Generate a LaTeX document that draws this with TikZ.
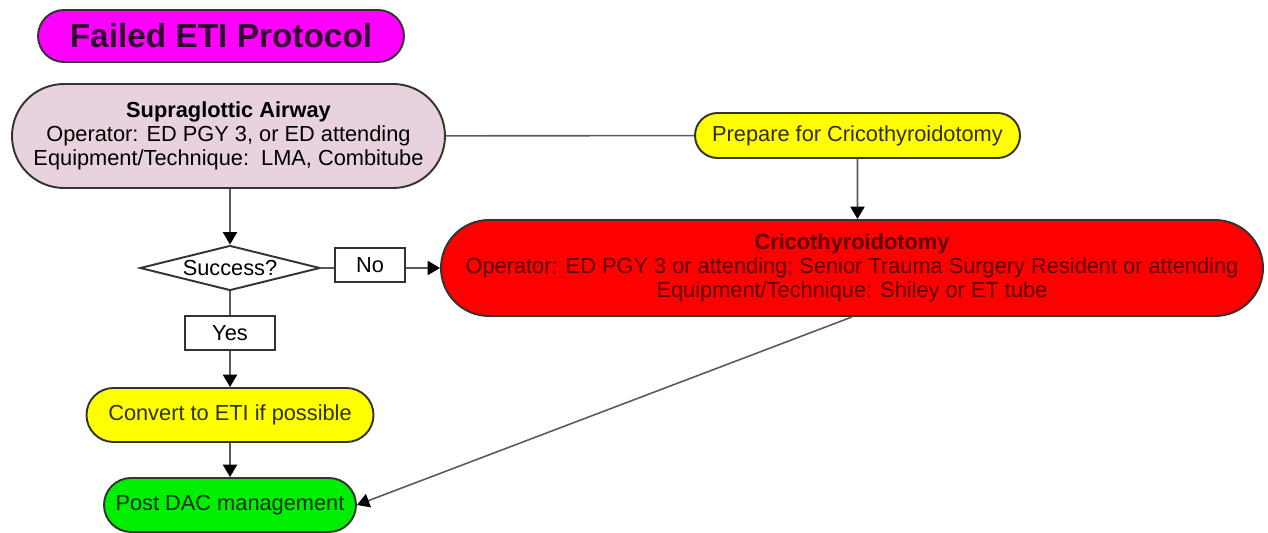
\documentclass[tikz,border=0pt]{standalone}
\usepackage{fontspec}
\setmainfont{Liberation Sans}
\usetikzlibrary{shapes.misc,shapes.geometric,arrows.meta}
\definecolor{titlefill}{HTML}{FF00FF}
\definecolor{sgafill}{HTML}{E8D2DE}
\definecolor{yelfill}{HTML}{FFFF00}
\definecolor{redfill}{HTML}{FF0000}
\definecolor{grnfill}{HTML}{00EE00}
\definecolor{edge}{HTML}{333333}
\definecolor{wire}{HTML}{5A5A5A}
\definecolor{redtext}{HTML}{5A0000}
\definecolor{titletext}{HTML}{300030}
\definecolor{grntext}{HTML}{0A300A}
\definecolor{yeltext}{HTML}{303000}
\begin{document}
\begin{tikzpicture}[every node/.style={align=center,inner sep=0pt,font=\fontsize{12.4}{13.7}\selectfont},
		pill/.style={rounded rectangle,draw=edge,line width=1.1pt},
		labelbox/.style={rectangle,draw=edge,line width=1.1pt,fill=white},
		wire/.style={draw=wire,line width=0.9pt},
		flow/.style={wire,-{Triangle[length=7pt,width=8pt,color=black]}}]
			\useasboundingbox (0,0) rectangle (25.36,-10.66);
			\node[pill,fill=titlefill,text=titletext,minimum width=7.32cm,minimum height=1.04cm,font=\fontsize{19}{22}\selectfont\bfseries] (title) at (4.42,-.72)
				{Failed ETI Protocol};
			\node[pill,fill=sgafill,minimum width=8.66cm,minimum height=2.08cm] (sga) at (4.57,-2.72)
				{\textbf{Supraglottic Airway}\\Operator: ED PGY 3, or ED attending\\Equipment/Technique:\ \ LMA, Combitube};
			\node[pill,fill=yelfill,text=yeltext,minimum width=6.5cm,minimum height=.9cm] (prep) at (17.15,-2.71)
				{Prepare for Cricothyroidotomy};
			\node[pill,fill=redfill,minimum width=16.44cm,minimum height=1.92cm,text=redtext] (cric) at (17.04,-5.36)
				{\textbf{Cricothyroidotomy}\\Operator: ED PGY 3 or attending; Senior Trauma Surgery Resident or attending\\Equipment/Technique: Shiley or ET tube};
			\node[diamond,draw=edge,line width=1.1pt,aspect=4,minimum width=3.6cm,minimum height=.9cm] (succ) at (4.6,-5.36)
				{Success?};
			\node[labelbox,minimum width=1.4cm,minimum height=.68cm] (no) at (7.4,-5.3)
				{No};
			\node[labelbox,minimum width=1.8cm,minimum height=.68cm] (yes) at (4.6,-6.66)
				{Yes};
			\node[pill,fill=yelfill,text=yeltext,minimum width=5.74cm,minimum height=1.08cm] (conv) at (4.6,-8.3)
				{Convert to ETI if possible};
			\node[pill,fill=grnfill,text=grntext,minimum width=5.04cm,minimum height=1.08cm] (post) at (4.6,-10.1)
				{Post DAC management};
			\draw[wire] (sga) -- (prep);
			\draw[flow] (prep) -- (prep |- cric.north);
			\draw[flow] (sga.south -| succ) -- (succ);
			\draw[wire] (succ) -- (succ.east -| no.west);
			\draw[flow] (no.east |- cric.west) -- (cric);
			\draw[wire] (succ) -- (yes);
			\draw[flow] (yes) -- (conv);
			\draw[flow] (conv) -- (post);
			\draw[flow] (cric.south) -- (post.east);
		\end{tikzpicture}
\end{document}
